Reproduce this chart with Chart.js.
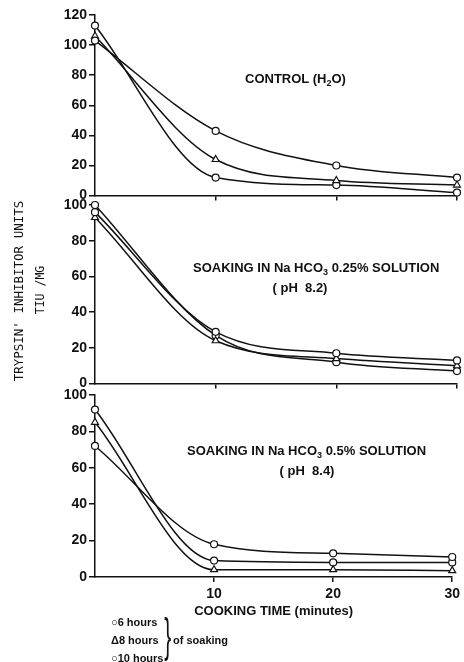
<!DOCTYPE html>
<html>
<head>
<meta charset="utf-8">
<script src="https://cdn.jsdelivr.net/npm/chart.js@4.4.0/dist/chart.umd.min.js"></script>
<style>
  body { margin: 0; background: #fff; }
  #wrap { position: relative; width: 464px; height: 662px; overflow: hidden; color: #111;
          font-family: 'Liberation Sans', Arial, sans-serif; }
  canvas { position: absolute; left: 0; }
  .t { position: absolute; white-space: nowrap; font-size: 13px; font-weight: bold; line-height: 1; }
  .c { transform: translate(-50%, -50%); }
  .ytitle { position: absolute; white-space: nowrap; font-family: 'DejaVu Sans Mono', monospace;
            font-size: 12.5px; transform: translate(-50%, -50%) rotate(-90deg); }
  .leg { position: absolute; white-space: nowrap; font-size: 11px; font-weight: bold; line-height: 1; }
  sub { font-size: 9px; vertical-align: -3px; line-height: 0; }
</style>
</head>
<body>
<div id="wrap">
  <canvas id="c1" width="464" height="206" style="top:0px"></canvas>
  <canvas id="c2" width="464" height="201" style="top:193px"></canvas>
  <canvas id="c3" width="464" height="236" style="top:383px"></canvas>

  <div class="t" style="left:245px; top:72px">CONTROL (H<sub>2</sub>O)</div>

  <div class="t" style="left:193px; top:261px">SOAKING IN Na HCO<sub>3</sub> 0.25% SOLUTION</div>
  <div class="t c" style="left:300px; top:287px">( pH&nbsp; 8.2)</div>

  <div class="t" style="left:187px; top:444px">SOAKING IN Na HCO<sub>3</sub> 0.5% SOLUTION</div>
  <div class="t c" style="left:307px; top:470px">( pH&nbsp; 8.4)</div>

  <div class="ytitle" style="left:18px; top:291px">TRYPSIN' INHIBITOR UNITS</div>
  <div class="ytitle" style="left:40px; top:290px; font-size:11.5px">TIU /MG</div>

  <div class="leg" style="left:111px; top:617px">&#9675;6 hours</div>
  <div class="leg" style="left:111px; top:635px">&Delta;8 hours</div>
  <div class="leg" style="left:111px; top:653px">&#9675;10 hours</div>
  <div class="leg" style="left:160px; top:612px; font-size:46px; font-weight:normal; transform:scaleX(0.45)">}</div>
  <div class="leg" style="left:173px; top:635px">of soaking</div>
</div>

<script>
// cooking time (minutes) and tick marks on the x axis
const cookTimes = [0, 10, 20, 30];
const xTicks = [10, 20, 30];

// soaking time series: 6 h (circle), 8 h (triangle), 10 h (circle)
const seriesNames = ['6 hours', '8 hours', '10 hours'];
const markers = ['circle', 'triangle', 'circle'];

// control (H2O)
const control6h = [103, 43, 20, 12];
const control8h = [106, 24, 10, 7];
const control10h = [113, 12, 7, 2];

// NaHCO3 0.25% (pH 8.2)
const soda025_6h = [96, 29, 17, 13];
const soda025_8h = [93, 24, 14, 10];
const soda025_10h = [100, 27, 12, 7];

// NaHCO3 0.5% (pH 8.4)
const soda05_6h = [72, 18, 13, 11];
const soda05_8h = [85, 4, 4, 3.5];
const soda05_10h = [92, 9, 8, 8];

const ink = '#111';

function makePanel(id, sets, yMax, padTop, xHeight, showX) {
  var ctx = document.getElementById(id).getContext('2d');
  var datasets = sets.map(function (vals, i) {
    return {
      label: seriesNames[i],
      data: cookTimes.map(function (t, j) { return { x: t, y: vals[j] }; }),
      borderColor: ink,
      borderWidth: 1.5,
      pointStyle: markers[i],
      pointRadius: markers[i] === 'triangle' ? 4 : 3.5,
      pointBackgroundColor: '#fff',
      pointBorderColor: ink,
      pointBorderWidth: 1.2,
      cubicInterpolationMode: 'monotone',
      clip: false
    };
  });

  return new Chart(ctx, {
    type: 'line',
    data: { datasets: datasets },
    options: {
      responsive: false,
      animation: false,
      layout: { padding: { left: 0, right: 7, top: padTop, bottom: 0 } },
      plugins: { legend: { display: false }, tooltip: { enabled: false } },
      scales: {
        x: {
          type: 'linear', min: 0, max: 30,
          afterBuildTicks: function (s) { s.ticks = xTicks.map(function (v) { return { value: v }; }); },
          afterFit: function (s) { s.height = xHeight; },
          grid: { drawOnChartArea: false, tickLength: 5, color: ink, lineWidth: 1.5 },
          border: { color: ink, width: 1.5 },
          ticks: { display: showX, color: ink, padding: 4, maxRotation: 0,
                   font: { family: 'Liberation Sans', size: 14, weight: 'bold' } },
          title: { display: showX, text: 'COOKING TIME (minutes)', color: ink, padding: 0,
                   font: { family: 'Liberation Sans', size: 13, weight: 'bold' } }
        },
        y: {
          min: 0, max: yMax,
          afterFit: function (s) { s.width = 95; },
          grid: { drawOnChartArea: false, tickLength: 6, color: ink, lineWidth: 1.5 },
          border: { color: ink, width: 1.5 },
          ticks: { stepSize: 20, color: ink, padding: 2,
                   font: { family: 'Liberation Sans', size: 14, weight: 'bold' } }
        }
      }
    }
  });
}

makePanel('c1', [control6h, control8h, control10h], 120, 15, 8, false);
makePanel('c2', [soda025_6h, soda025_8h, soda025_10h], 100, 12, 8, false);
makePanel('c3', [soda05_6h, soda05_8h, soda05_10h], 100, 12, 42, true);
</script>
</body>
</html>
